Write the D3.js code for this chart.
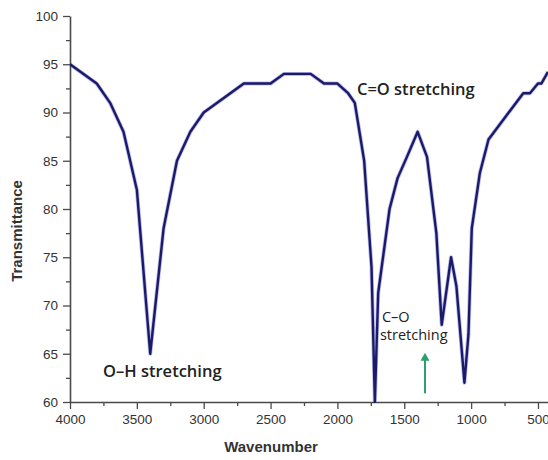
<!DOCTYPE html>
<html>
<head>
<meta charset="utf-8">
<script src="https://cdn.jsdelivr.net/npm/d3@7/dist/d3.min.js"></script>
<style>
  html, body { margin: 0; padding: 0; background: #fff; }
  svg { display: block; }
</style>
</head>
<body>
<svg id="chart" width="548" height="460"></svg>
<script>
// FTIR spectrum: wavenumber (cm-1) vs. transmittance (%)
const wavenumber = [4000, 3800, 3700, 3600, 3500, 3400, 3300, 3200, 3100, 3000,
  2700, 2500, 2400, 2200, 2100, 2000, 1920, 1870, 1800, 1745,
  1720, 1695, 1610, 1550, 1480, 1400, 1330, 1260, 1220, 1150,
  1110, 1050, 1020, 995, 935, 870, 610, 560, 500, 475, 425];
const transmittance = [95, 93, 91, 88, 82, 65, 78, 85, 88, 90,
  93, 93, 94, 94, 93, 93, 92, 91, 85, 74,
  60, 71.3, 80, 83.2, 85.4, 88, 85.4, 77.5, 68, 75,
  72, 62, 67, 78, 83.7, 87.2, 92, 92, 93, 93, 94.2];

const xTicks = [4000, 3500, 3000, 2500, 2000, 1500, 1000, 500];
const yTicks = [60, 65, 70, 75, 80, 85, 90, 95, 100];

// band labels, anchored in data units (left edge, baseline)
const annotations = [
  { text: "C=O stretching", w: 1854, t: 91.8, size: 16.5, weight: 600 },
  { text: "O\u2013H stretching", w: 3753, t: 62.6, size: 16.5, weight: 600 },
  { text: "C\u2013O", w: 1667, t: 68.3, size: 14.5, weight: 400 },
  { text: "stretching", w: 1682, t: 66.4, size: 14.5, weight: 400 }
];
const arrow = { w: 1345, from: 60.9, to: 65.1 };

const svg = d3.select("#chart");
const mLeft = 70, mRight = 548, mTop = 16, mBottom = 402;

const x = d3.scaleLinear().domain([4000, 425]).range([mLeft, mRight]);
const y = d3.scaleLinear().domain([60, 100]).range([mBottom, mTop]);

const data = wavenumber.map((w, i) => ({ w, t: transmittance[i] }));

// axes
const axisColor = "#4a4a4a";
const xAxis = svg.append("g")
  .attr("transform", `translate(0,${mBottom})`)
  .call(d3.axisBottom(x).tickValues(xTicks).tickFormat(d3.format("d"))
    .tickSize(7).tickPadding(5).tickSizeOuter(0));
const xMinor = svg.append("g")
  .attr("transform", `translate(0,${mBottom})`)
  .call(d3.axisBottom(x).tickValues(d3.range(3750, 425, -500)).tickSize(4).tickFormat("").tickSizeOuter(0));
const yAxis = svg.append("g")
  .attr("transform", `translate(${mLeft},0)`)
  .call(d3.axisLeft(y).tickValues(yTicks).tickFormat(d3.format("d"))
    .tickSize(7).tickPadding(5).tickSizeOuter(0));
const yMinor = svg.append("g")
  .attr("transform", `translate(${mLeft},0)`)
  .call(d3.axisLeft(y).tickValues(d3.range(62.5, 100, 5)).tickSize(4).tickFormat("").tickSizeOuter(0));

[xAxis, xMinor, yAxis, yMinor].forEach(g => {
  g.select(".domain").attr("stroke", axisColor).attr("stroke-width", 1.6);
  g.selectAll(".tick line").attr("stroke", axisColor).attr("stroke-width", 1.3);
  g.selectAll(".tick text")
    .attr("fill", "#333")
    .attr("font-family", "Liberation Sans, Arial, sans-serif")
    .attr("font-size", 13.5);
});
xMinor.select(".domain").remove();
yMinor.select(".domain").remove();

// axis titles
svg.append("text")
  .attr("x", 271).attr("y", 452)
  .attr("text-anchor", "middle")
  .attr("font-family", "Liberation Sans, Arial, sans-serif")
  .attr("font-weight", "bold")
  .attr("font-size", 15)
  .attr("fill", "#333")
  .text("Wavenumber");

svg.append("text")
  .attr("transform", "translate(22,231) rotate(-90)")
  .attr("text-anchor", "middle")
  .attr("font-family", "Liberation Sans, Arial, sans-serif")
  .attr("font-weight", "bold")
  .attr("font-size", 15)
  .attr("fill", "#333")
  .text("Transmittance");

// spectrum line
svg.append("defs").append("clipPath").attr("id", "plot")
  .append("rect").attr("x", mLeft).attr("y", 0).attr("width", mRight - mLeft).attr("height", mBottom + 1);

const line = d3.line().x(d => x(d.w)).y(d => y(d.t));
svg.append("path")
  .datum(data)
  .attr("clip-path", "url(#plot)")
  .attr("fill", "none")
  .attr("stroke", "#3b3bd0")
  .attr("stroke-opacity", 0.35)
  .attr("stroke-width", 4)
  .attr("stroke-linejoin", "round")
  .attr("d", line);
svg.append("path")
  .datum(data)
  .attr("clip-path", "url(#plot)")
  .attr("fill", "none")
  .attr("stroke", "#1a1a66")
  .attr("stroke-width", 2.4)
  .attr("stroke-linejoin", "round")
  .attr("d", line);

// band annotations
svg.selectAll("text.note")
  .data(annotations)
  .join("text")
  .attr("class", "note")
  .attr("x", d => x(d.w))
  .attr("y", d => y(d.t))
  .attr("font-family", "Open Sans, sans-serif")
  .attr("font-weight", d => d.weight)
  .attr("font-size", d => d.size)
  .attr("fill", "#222")
  .text(d => d.text);

// marker arrow
const green = "#2f9e6e";
const ax = x(arrow.w), ay0 = y(arrow.from), ay1 = y(arrow.to);
svg.append("line")
  .attr("x1", ax).attr("x2", ax)
  .attr("y1", ay0).attr("y2", ay1 + 6)
  .attr("stroke", green).attr("stroke-width", 2);
svg.append("path")
  .attr("d", `M${ax},${ay1} L${ax - 4.5},${ay1 + 8} L${ax + 4.5},${ay1 + 8} Z`)
  .attr("fill", green);
</script>
</body>
</html>
